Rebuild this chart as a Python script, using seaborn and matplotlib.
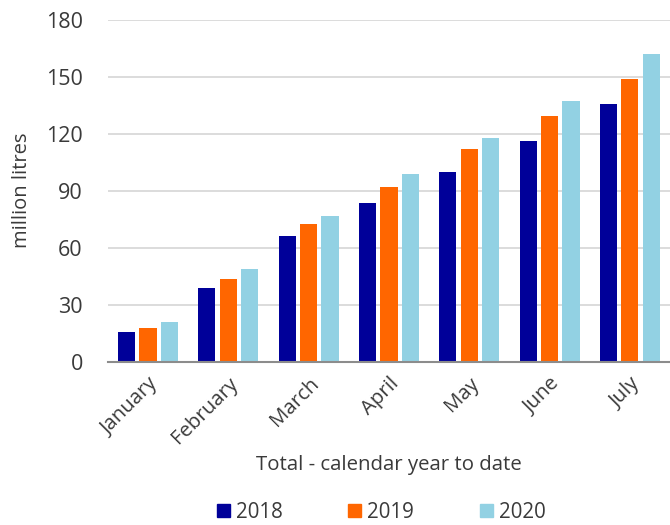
import matplotlib
matplotlib.use("Agg")
import matplotlib.pyplot as plt
import seaborn as sns
import pandas as pd

# Cumulative volume, calendar year to date (million litres)
months = ["January", "February", "March", "April", "May", "June", "July"]
years = ["2018", "2019", "2020"]
v2018 = [15.6, 38.8, 66.0, 83.4, 99.9, 116.3, 135.9]
v2019 = [17.9, 43.4, 72.6, 92.0, 111.9, 129.4, 149.1]
v2020 = [20.7, 48.5, 76.7, 99.0, 117.8, 137.4, 162.2]
yticks = [0, 30, 60, 90, 120, 150, 180]

colors = {"2018": "#000099", "2019": "#FF6600", "2020": "#92D1E3"}
text_color = "#3a3a3a"

df = pd.DataFrame({
    "month": months * 3,
    "year": [y for y in years for _ in months],
    "value": v2018 + v2019 + v2020,
})

sns.set_theme(style="white")
plt.rcParams["font.family"] = ["Open Sans", "DejaVu Sans"]
plt.rcParams["text.color"] = text_color
plt.rcParams["axes.labelcolor"] = text_color
plt.rcParams["xtick.color"] = text_color
plt.rcParams["ytick.color"] = text_color

fig = plt.figure(figsize=(6.7, 5.25), dpi=100)
ax = fig.add_axes([0.161, 0.3114, 0.839, 0.6506])

sns.barplot(data=df, x="month", y="value", hue="year", order=months,
            hue_order=years, palette=colors, saturation=1, width=0.8,
            gap=0.2, edgecolor="none", ax=ax, legend=False)

ax.set_ylim(0, 180)
ax.set_xlim(-0.5, len(months) - 0.5)
ax.set_yticks(yticks)
ax.set_yticklabels([str(t) for t in yticks], fontsize=15.5)
ax.tick_params(axis="y", length=0, pad=18)
ax.tick_params(axis="x", length=0, pad=9)
ax.set_xticks(range(len(months)))
ax.set_xticklabels(months, rotation=45, ha="right", rotation_mode="anchor",
                   fontsize=14.7)

ax.yaxis.grid(True, color="#d9d9d9", linewidth=1.3)
ax.set_axisbelow(True)
for side in ("top", "right", "left"):
    ax.spines[side].set_visible(False)
ax.spines["bottom"].set_color("#8c8c8c")
ax.spines["bottom"].set_linewidth(1.5)

ax.set_ylabel("million litres", fontsize=14.5, labelpad=10)
ax.set_xlabel("Total - calendar year to date", fontsize=14.7, labelpad=5)

handles = [plt.Rectangle((0, 0), 1, 1, color=colors[y]) for y in years]
fig.legend(handles, years, loc="lower center", bbox_to_anchor=(0.569, -0.031),
           ncol=3, frameon=False, fontsize=14.8, handlelength=0.62,
           handleheight=0.62, handletextpad=0.3, columnspacing=3.2)

fig.savefig("out.png", dpi=100)
